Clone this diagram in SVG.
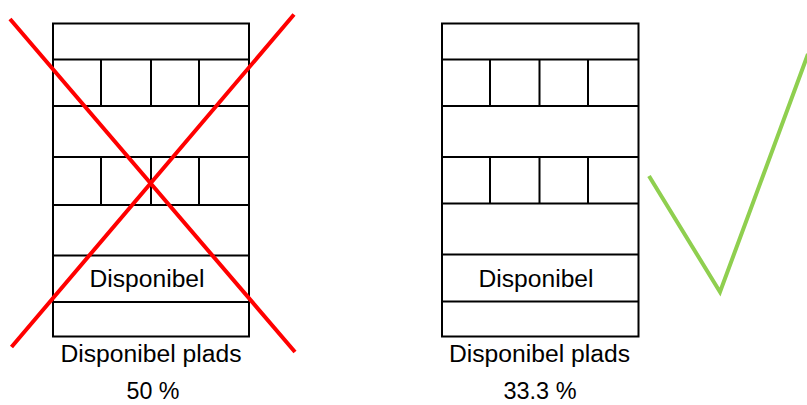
<svg xmlns="http://www.w3.org/2000/svg" width="807" height="405" viewBox="0 0 807 405">
<style>
.b{fill:none;stroke:#000;stroke-width:2}
.t{font-family:"Liberation Sans",Arial,sans-serif;font-size:23px;fill:#000;text-anchor:middle}
</style>
<rect width="807" height="405" fill="#fff"/>
<g id="building-left">
<rect class="b" x="53" y="23.5" width="196" height="313"/>
<path class="b" d="M53 59.5H249M53 106H249M53 157H249M53 205H249M53 255.5H249M53 302H249"/>
<path class="b" d="M101 59.5V106M151 59.5V106M199 59.5V106M101 157V205M151 157V205M199 157V205"/>
<text class="t" x="147" y="287" textLength="115" lengthAdjust="spacingAndGlyphs">Disponibel</text>
<text class="t" x="151" y="362" textLength="181" lengthAdjust="spacingAndGlyphs">Disponibel plads</text>
<text class="t" x="153" y="399" textLength="53" lengthAdjust="spacingAndGlyphs">50 %</text>
</g>
<g id="cross">
<path d="M10 19L295 352M294 14.5L11.5 347" stroke="#f00" stroke-width="4" fill="none"/>
</g>
<g id="building-right">
<rect class="b" x="442" y="23.5" width="196.5" height="313"/>
<path class="b" d="M442 59.5H638.5M442 106H638.5M442 157H638.5M442 203.5H638.5M442 254.5H638.5M442 301.5H638.5"/>
<path class="b" d="M490 59.5V106M539.5 59.5V106M588 59.5V106M490 157V203.5M539.5 157V203.5M588 157V203.5"/>
<text class="t" x="536" y="287" textLength="115" lengthAdjust="spacingAndGlyphs">Disponibel</text>
<text class="t" x="539.5" y="362" textLength="181" lengthAdjust="spacingAndGlyphs">Disponibel plads</text>
<text class="t" x="540" y="399" textLength="73" lengthAdjust="spacingAndGlyphs">33.3 %</text>
</g>
<g id="check">
<path d="M649 176L720 292L808 54" stroke="#8fcf4f" stroke-width="4" fill="none"/>
</g>
</svg>
